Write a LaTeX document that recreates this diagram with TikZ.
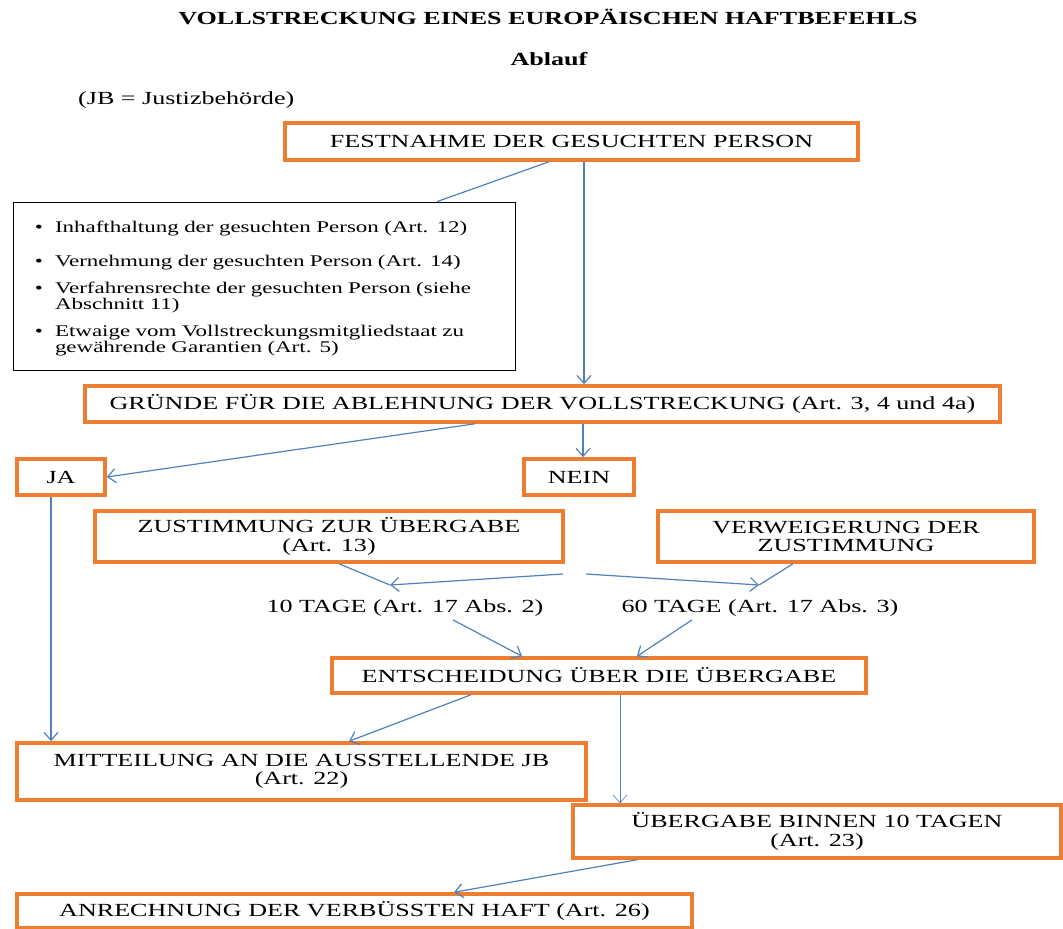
\documentclass[tikz,border=0pt]{standalone}
\usepackage{fontspec}
\setmainfont{Liberation Serif}[FakeStretch=1.41]
\usepackage{enumitem}
\usepackage{xcolor}
\usetikzlibrary{positioning,calc,arrows.meta}

\definecolor{boxorange}{RGB}{237,125,49}
\definecolor{arrowblue}{RGB}{79,129,189}

\tikzset{
  txt/.style={font=\fontsize{18.5}{18.5}\selectfont},
  obox/.style={draw=boxorange, line width=3.5pt, inner sep=0pt, align=center, txt},
  link/.style={draw=arrowblue, line width=1.2pt},
  flowarrow/.style={link, -{Straight Barb[length=8pt,width=14pt]}},
}

\begin{document}
\begin{tikzpicture}[x=10pt,y=-10pt]
    \useasboundingbox (0,0) rectangle (106.3,92.9);

    % Heading
    \node (title) at (54.8,1.7) [txt] {\bfseries VOLLSTRECKUNG EINES EUROPÄISCHEN HAFTBEFEHLS};
    \node (ablauf) at (54.9,5.9) [txt] {\bfseries Ablauf};
    \node (jb) at (7.8,10.0) [txt, anchor=west, inner sep=0pt] {(JB = Justizbehörde)};

    % Boxes
    \node (fest) at (57.15,14.15) [obox, minimum width=573pt, minimum height=37pt] {FESTNAHME DER GESUCHTEN PERSON};
    \node (info) at (26.4,28.6) [draw, line width=0.8pt, minimum width=502pt, minimum height=168pt,
        inner xsep=16pt, inner ysep=0pt, text width=470pt, font=\fontsize{16.3}{16.5}\selectfont] {%
        \begin{itemize}[leftmargin=26pt, labelsep=12pt, labelwidth=8pt, topsep=0pt, partopsep=0pt, itemsep=10pt, parsep=0pt]
            \item Inhafthaltung der gesuchten Person (Art. 12)\vspace{8pt}
            \item Vernehmung der gesuchten Person (Art. 14)
            \item Verfahrensrechte der gesuchten Person (siehe\\Abschnitt 11)
            \item Etwaige vom Vollstreckungsmitgliedstaat zu\\gewährende Garantien (Art. 5)
        \end{itemize}\vspace{8pt}};
    \node (gruende) at (54.25,40.4) [obox, minimum width=915pt, minimum height=36pt] {GRÜNDE FÜR DIE ABLEHNUNG DER VOLLSTRECKUNG (Art. 3, 4 und 4a)};
    \node (ja) at (6.1,47.7) [obox, minimum width=88pt, minimum height=36pt] {JA};
    \node (nein) at (57.9,47.7) [obox, minimum width=110pt, minimum height=36pt] {NEIN};
    \node (zust) at (32.9,53.65) [obox, minimum width=468pt, minimum height=51pt] {ZUSTIMMUNG ZUR ÜBERGABE\\(Art. 13)};
    \node (verw) at (84.6,53.65) [obox, minimum width=376pt, minimum height=51pt] {VERWEIGERUNG DER\\ZUSTIMMUNG};
    \node (tage10) at (40.5,60.8) [txt] {10 TAGE (Art. 17 Abs. 2)};
    \node (tage60) at (76.0,60.8) [txt] {60 TAGE (Art. 17 Abs. 3)};
    \node (entsch) at (59.9,67.55) [obox, minimum width=534pt, minimum height=35pt] {ENTSCHEIDUNG ÜBER DIE ÜBERGABE};
    \node (mitt) at (30.15,77.15) [obox, minimum width=569pt, minimum height=57pt] {MITTEILUNG AN DIE AUSSTELLENDE JB\\(Art. 22)};
    \node (ueberg) at (81.7,83.15) [obox, minimum width=488pt, minimum height=53pt] {ÜBERGABE BINNEN 10 TAGEN\\(Art. 23)};
    \node (anr) at (35.45,91.1) [obox, minimum width=675pt, minimum height=34pt] {ANRECHNUNG DER VERBÜSSTEN HAFT (Art. 26)};

    % Connectors
    \coordinate (split10) at (56.3,57.4);
    \coordinate (split60) at (58.6,57.4);
    \coordinate (in10) at (39.0,58.5);
    \coordinate (in60) at (75.9,58.5);

    \draw[link] ([xshift=-22.5pt]fest.south) -- ([xshift=173pt]info.north);
    \draw[flowarrow] ([xshift=12.5pt]fest.south) -- ([xshift=12.5pt]fest.south |- gruende.north);
    \draw[flowarrow] ([xshift=-67.5pt]gruende.south) -- (ja.east);
    \draw[flowarrow] ([xshift=40.5pt]gruende.south) -- ([xshift=40.5pt]gruende.south |- nein.north);
    \draw[link] ([xshift=10pt]zust.south) -- (in10);
    \draw[flowarrow] (split10) -- (in10);
    \draw[flowarrow] (split60) -- (in60);
    \draw[link] ([xshift=-53pt]verw.south) -- (in60);
    \draw[flowarrow] ([xshift=48pt]tage10.south) -- ([xshift=-77pt]entsch.north);
    \draw[flowarrow] ([xshift=-68pt]tage60.south) -- ([xshift=38pt]entsch.north);
    \draw[flowarrow] ([xshift=-128pt]entsch.south) -- ([xshift=47.5pt]mitt.north);
    \draw[flowarrow, line width=0.6pt] ([xshift=21pt]entsch.south) -- ([xshift=21pt]entsch.south |- ueberg.north);
    \draw[flowarrow] ([xshift=-10pt]ja.south) -- ([xshift=-10pt]ja.south |- mitt.north);
    \draw[flowarrow] ([xshift=-180pt]ueberg.south) -- ([xshift=99.5pt]anr.north);
\end{tikzpicture}
\end{document}
